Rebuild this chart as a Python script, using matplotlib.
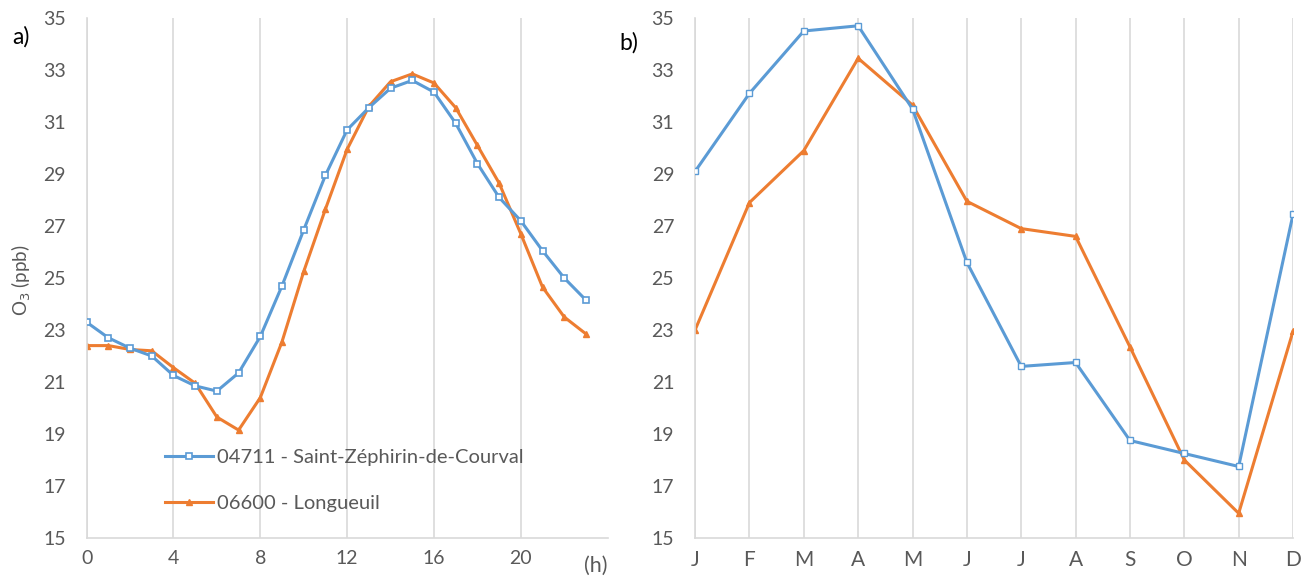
import matplotlib
matplotlib.use("Agg")
from matplotlib import pyplot as plt

# ozone, hourly mean profile (panel a)
hours = list(range(24))
st_zeph_h = [23.3, 22.7, 22.3, 22.0, 21.25, 20.85, 20.65, 21.35, 22.75, 24.7,
             26.85, 28.95, 30.7, 31.55, 32.3, 32.6, 32.15, 30.95, 29.4, 28.1,
             27.2, 26.05, 25.0, 24.15]
longueuil_h = [22.4, 22.4, 22.25, 22.2, 21.55, 20.95, 19.65, 19.15, 20.4, 22.55,
               25.25, 27.65, 29.95, 31.6, 32.55, 32.85, 32.5, 31.55, 30.1, 28.65,
               26.7, 24.65, 23.5, 22.85]

# ozone, monthly mean (panel b)
months = ["J", "F", "M", "A", "M", "J", "J", "A", "S", "O", "N", "D"]
st_zeph_m = [29.1, 32.1, 34.5, 34.7, 31.5, 25.6, 21.6, 21.75, 18.75, 18.25, 17.75, 27.45]
longueuil_m = [23.0, 27.9, 29.9, 33.45, 31.65, 27.95, 26.9, 26.6, 22.35, 18.0, 15.95, 22.95]

lab1 = "04711 - Saint-Zéphirin-de-Courval"
lab2 = "06600 - Longueuil"

blue = "#5B9BD5"
orange = "#ED7D31"
txtc = "#595959"
gridc = "#D9D9D9"

plt.rcParams["font.family"] = ["Lato", "DejaVu Sans"]

fig = plt.figure(figsize=(13.09, 5.77), dpi=100)
ax1 = fig.add_axes([0.0662, 0.0676, 0.398, 0.9012])
ax2 = fig.add_axes([0.531, 0.0676, 0.4568, 0.9012])

def style(ax):
    for s in ["top", "right"]:
        ax.spines[s].set_visible(False)
    ax.spines["left"].set_color(gridc)
    ax.spines["bottom"].set_color(gridc)
    ax.spines["left"].set_linewidth(1.2)
    ax.spines["bottom"].set_linewidth(1.2)
    ax.set_ylim(15, 35)
    ax.set_yticks(range(15, 36, 2))
    ax.tick_params(length=0, labelsize=14, colors=txtc)
    ax.tick_params(axis="y", pad=15)
    ax.tick_params(axis="x", pad=9)
    ax.xaxis.grid(True, color=gridc, linewidth=1.2)
    ax.set_axisbelow(True)

style(ax1)
ax1.plot(hours, st_zeph_h, color=blue, lw=2.2, marker="s", ms=5,
         mfc="white", mec=blue, mew=1.2, label=lab1, zorder=3)
ax1.plot(hours, longueuil_h, color=orange, lw=2.2, marker="^", ms=4,
         mfc=orange, mec=orange, label=lab2, zorder=2)
ax1.set_xlim(0, 24)
ax1.set_xticks([0, 4, 8, 12, 16, 20])
ax1.text(1.0, -0.035, "(h)", transform=ax1.transAxes, ha="right", va="top",
         fontsize=15.5, color=txtc)
ax1.legend(loc="lower left", bbox_to_anchor=(0.115, 0.015), frameon=False,
           fontsize=14.5, labelcolor=txtc, handlelength=2.4, handletextpad=0.2,
           labelspacing=1.45)

style(ax2)
x = list(range(len(months)))
ax2.plot(x, st_zeph_m, color=blue, lw=2.2, marker="s", ms=5,
         mfc="white", mec=blue, mew=1.0, zorder=3)
ax2.plot(x, longueuil_m, color=orange, lw=2.2, marker="^", ms=4,
         mfc=orange, mec=orange, zorder=2)
ax2.set_xlim(0, 11)
ax2.set_xticks(x)
ax2.set_xticklabels(months, fontsize=15)

fig.text(0.009, 0.936, "a)", fontsize=16.5, color="black", va="center")
fig.text(0.4735, 0.925, "b)", fontsize=16.5, color="black", va="center")
fig.text(0.016, 0.515, "O$_3$ (ppb)", rotation=90, fontsize=13.5, color=txtc,
         ha="center", va="center")

plt.savefig("out.png", dpi=100)
